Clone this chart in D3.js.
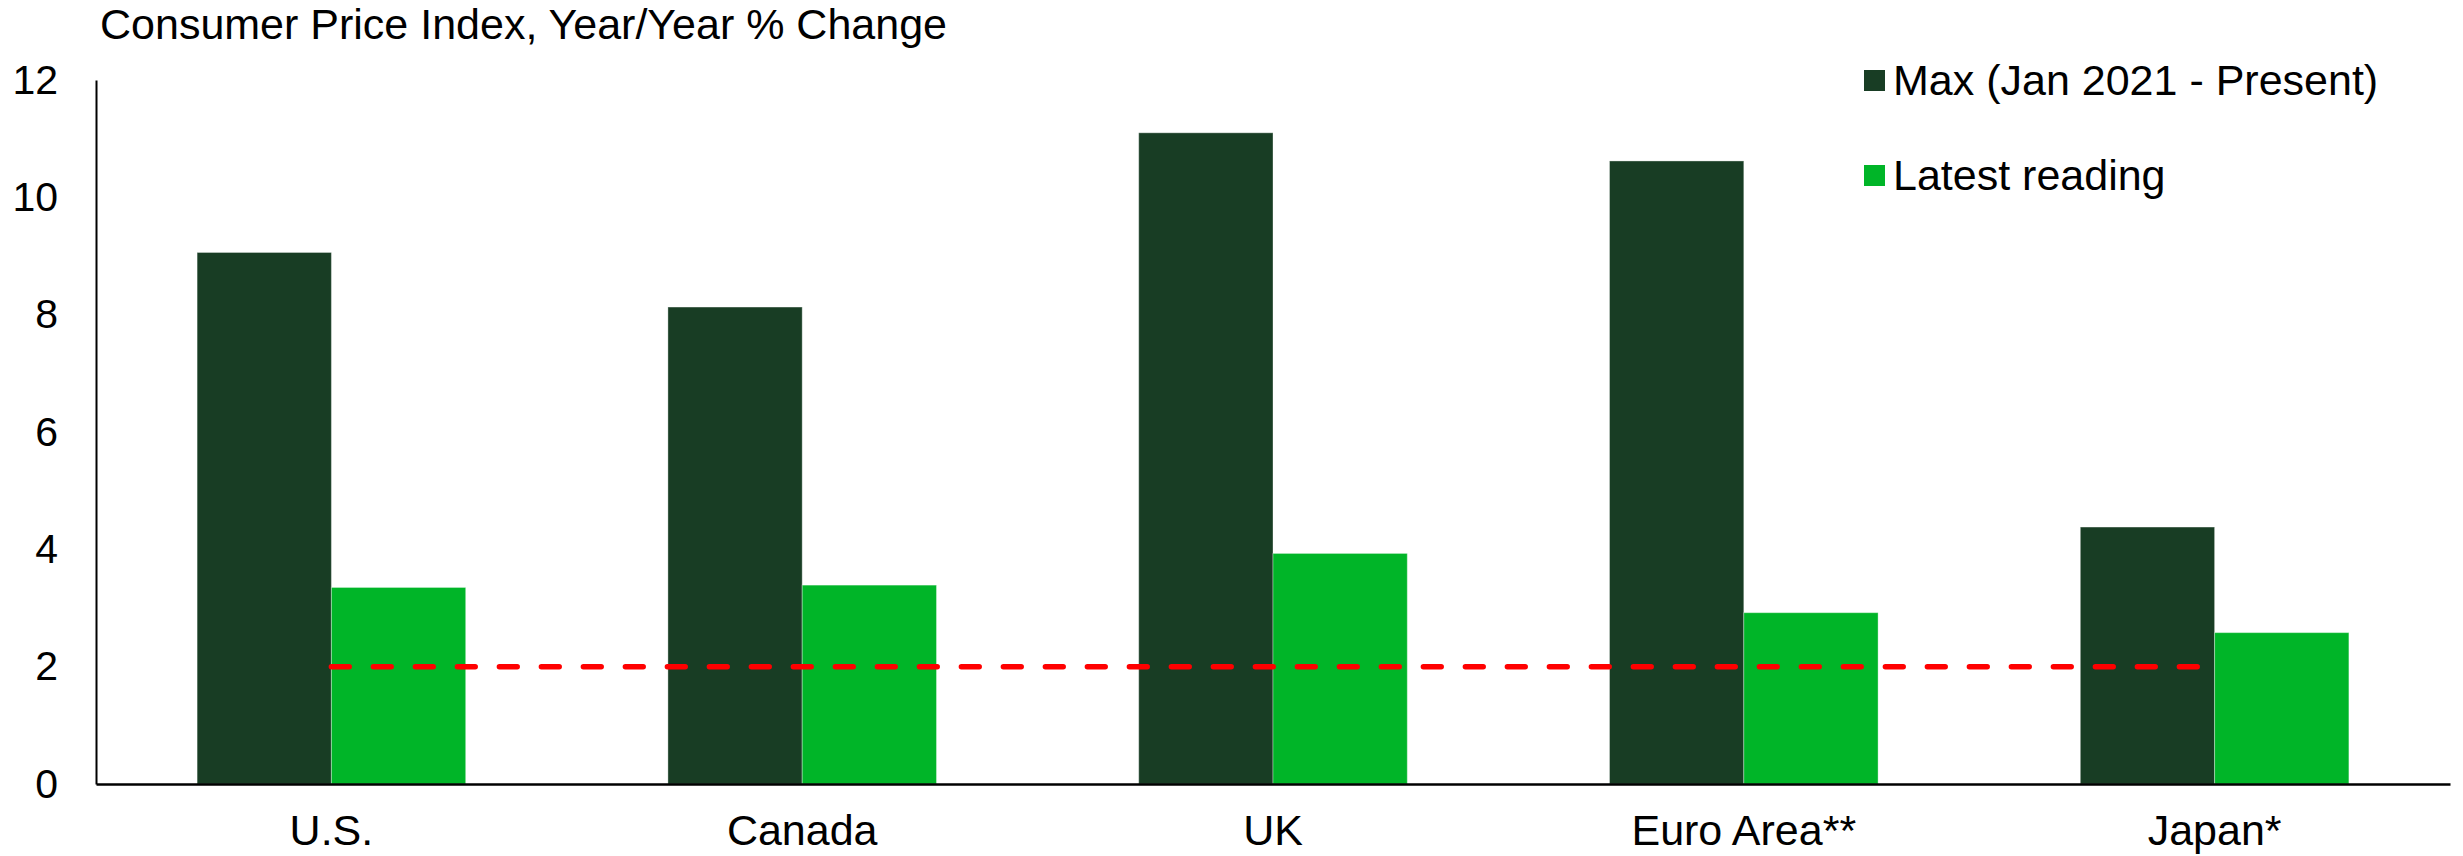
<!DOCTYPE html>
<html>
<head>
<meta charset="utf-8">
<script src="https://cdn.jsdelivr.net/npm/d3@7"></script>
<style>
  html, body { margin: 0; padding: 0; background: #ffffff; }
  svg { display: block; }
  text { font-family: "Liberation Sans", Arial, sans-serif; fill: #000; }
</style>
</head>
<body>
<svg id="chart" width="2463" height="856"></svg>
<script>
const categories = ["U.S.", "Canada", "UK", "Euro Area**", "Japan*"];
const seriesNames = ["Max (Jan 2021 - Present)", "Latest reading"];
const maxValues = [9.06, 8.13, 11.1, 10.62, 4.38];
const latestValues = [3.35, 3.39, 3.93, 2.92, 2.58];
const targetValues = [2, 2, 2, 2, 2];
const yTicks = [0, 2, 4, 6, 8, 10, 12];
const title = "Consumer Price Index, Year/Year % Change";
const colors = ["#183D24", "#00B528"];

const svg = d3.select("#chart");
const margin = { left: 96, right: 2463 - 2450, top: 80, bottom: 856 - 784 };
const W = 2463, H = 856;

const x0 = d3.scaleBand().domain(categories).range([margin.left, W - margin.right]).padding(0);
const x1 = d3.scaleBand().domain(seriesNames).range([0, x0.bandwidth()]).paddingInner(0).paddingOuter(0.753);
const y = d3.scaleLinear().domain([0, 12]).range([H - margin.bottom, margin.top]);

const fsTick = 41;
const fsText = 43;

// Title
svg.append("text").attr("x", 100).attr("y", 39).style("font-size", fsText + "px").text(title);

// Bars
const rows = categories.map((c, i) => ({ cat: c, vals: [maxValues[i], latestValues[i]] }));
const g = svg.append("g");
rows.forEach(r => {
  r.vals.forEach((v, j) => {
    g.append("rect")
      .attr("x", x0(r.cat) + x1(seriesNames[j]))
      .attr("y", y(v))
      .attr("width", x1.bandwidth())
      .attr("height", y(0) - y(v))
      .attr("fill", colors[j])
      .attr("stroke", "rgba(255,255,255,0.35)")
      .attr("stroke-width", 1);
  });
});

// Target dashed line
const line = d3.line()
  .x((d, i) => x0(categories[i]) + x0.bandwidth() / 2)
  .y(d => y(d));
svg.append("path")
  .datum(targetValues)
  .attr("d", line)
  .attr("fill", "none")
  .attr("stroke", "#FF0000")
  .attr("stroke-width", 5.5)
  .attr("stroke-linecap", "round")
  .attr("stroke-dasharray", "17.8 24.2");

// Y axis
const yAxis = d3.axisLeft(y).tickValues(yTicks).tickSize(0).tickPadding(38).tickFormat(d3.format("d"));
const ya = svg.append("g").attr("transform", `translate(${margin.left},0)`).call(yAxis);
ya.select(".domain").attr("stroke", "#000").attr("stroke-width", 2);
ya.selectAll("text").style("font-size", fsTick + "px").style("font-family", '"Liberation Sans", Arial, sans-serif');

// X axis
const xAxis = d3.axisBottom(x0).tickSize(0).tickPadding(30);
const xa = svg.append("g").attr("transform", `translate(0,${y(0)})`).call(xAxis);
xa.select(".domain").attr("stroke", "#000").attr("stroke-width", 2.5);
xa.selectAll("text").style("font-size", fsText + "px").style("font-family", '"Liberation Sans", Arial, sans-serif');

// Legend
const leg = svg.append("g");
seriesNames.forEach((s, j) => {
  const yy = 70 + j * 95;
  leg.append("rect").attr("x", 1864).attr("y", yy).attr("width", 21).attr("height", 21).attr("fill", colors[j]);
  leg.append("text").attr("x", 1893).attr("y", yy + 25).style("font-size", fsText + "px").text(s);
});
</script>
</body>
</html>
